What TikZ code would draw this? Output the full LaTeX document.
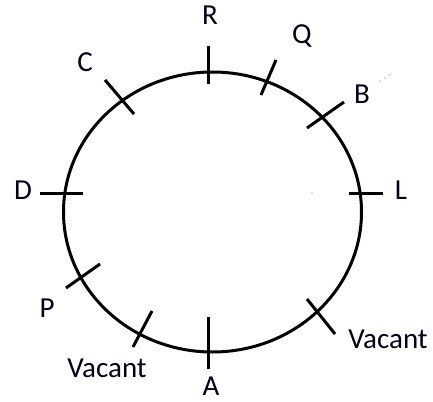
\documentclass[tikz,border=0pt]{standalone}
\usepackage{fontspec}
\setmainfont{Carlito}
\begin{document}
\begin{tikzpicture}[x=1pt,y=-1pt,
  ring/.style={line width=3pt},
  tick/.style={line width=3pt},
  lbl/.style={anchor=base,inner sep=0pt,font=\fontsize{29}{31}\selectfont,text=black!90!blue},
  speck/.style={fill=black!55}]
\useasboundingbox (0,0) rectangle (433,401);
% circle
\draw[ring] (212.5,212) ellipse [x radius=149, y radius=140];
% ticks
\draw[tick] (208,46) -- (208,84);   % R
\draw[tick] (276,60) -- (261,95);   % Q
\draw[tick] (344,102) -- (307,128); % B
\draw[tick] (349,193) -- (383,193); % L
\draw[tick] (105,80) -- (134,114);  % C
\draw[tick] (40,193) -- (83,193);   % D
\draw[tick] (100,264) -- (66,288);  % P
\draw[tick] (152,311) -- (133,347); % Vacant left
\draw[tick] (208,317) -- (208,369); % A
\draw[tick] (307,299) -- (335,334); % Vacant right
% labels
\node[lbl] (R) at (210,25) {R};
\node[lbl] (Q) at (302,44) {Q};
\node[lbl] (B) at (362,103) {B};
\node[lbl] (L) at (401,199) {L};
\node[lbl] (C) at (85,72) {C};
\node[lbl] (D) at (23,199) {D};
\node[lbl] (P) at (47,317) {P};
\node[lbl] (V1) at (107,377) {Vacant};
\node[lbl] (A) at (211,395) {A};
\node[lbl] (V2) at (388,348) {Vacant};
% specks
\fill[speck] (380,81) circle (0.7);
\fill[speck] (385,78) circle (0.6);
\fill[speck] (389,75) circle (0.6);
\fill[speck] (391,74) circle (0.5);
\fill[speck] (312,193) circle (0.7);
\end{tikzpicture}
\end{document}
